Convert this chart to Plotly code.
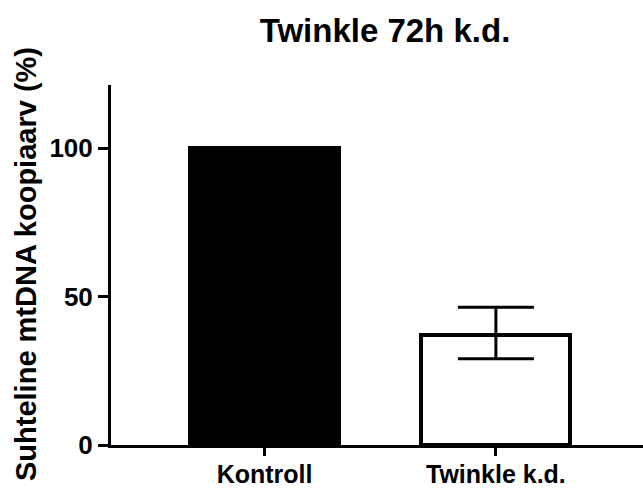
import plotly.graph_objects as go

# Relative mtDNA copy number after 72 h Twinkle knock-down
categories = ["Kontroll", "Twinkle k.d."]
values = [100, 37]
err_plus = [0, 9.4]
err_minus = [0, 7.9]
fill_colors = ["black", "white"]

y_ticks = [0, 50, 100]

FONT = "Liberation Sans, Arial, sans-serif"

W, H = 643, 488
M_L, M_R, M_T, M_B = 111, 0, 85, 43
plot_w = W - M_L - M_R
plot_h = H - M_T - M_B

fig = go.Figure()
fig.add_trace(go.Bar(
    x=categories,
    y=values,
    width=0.645,
    marker=dict(color=fill_colors, line=dict(color="black", width=4)),
    error_y=dict(
        type="data",
        symmetric=False,
        array=err_plus,
        arrayminus=err_minus,
        color="black",
        thickness=3,
        width=38,
    ),
    showlegend=False,
))

fig.update_layout(
    width=W,
    height=H,
    margin=dict(l=M_L, r=M_R, t=M_T, b=M_B, autoexpand=False),
    paper_bgcolor="white",
    plot_bgcolor="white",
    font=dict(family=FONT, color="black"),
    title=dict(
        text="<b>Twinkle 72h k.d.</b>",
        font=dict(family=FONT, size=33, color="black"),
        x=385 / W,
        xanchor="center",
        y=1 - 30 / H,
        yanchor="middle",
    ),
    bargap=0,
)

# y-axis title as a rotated annotation, placed left of the tick labels
fig.add_annotation(
    text="<b>Suhteline mtDNA koopiaarv (%)</b>",
    font=dict(family=FONT, size=29, color="black"),
    textangle=-90,
    xref="paper",
    yref="paper",
    x=(26 - M_L) / plot_w,
    y=(H - M_B - 264) / plot_h,
    xanchor="center",
    yanchor="middle",
    showarrow=False,
)

fig.update_xaxes(
    type="category",
    range=[-0.664, 1.636],
    automargin=False,
    showline=True,
    linecolor="black",
    linewidth=3,
    ticks="outside",
    ticklen=8,
    tickwidth=3,
    tickcolor="black",
    tickfont=dict(family=FONT, size=25, color="black", weight="bold"),
    ticklabelstandoff=-3,
    showgrid=False,
    zeroline=False,
)

fig.update_yaxes(
    range=[0, 121.3],
    automargin=False,
    tickvals=y_ticks,
    ticktext=[str(v) for v in y_ticks],
    showline=True,
    linecolor="black",
    linewidth=3,
    ticks="outside",
    ticklen=10,
    tickwidth=3,
    tickcolor="black",
    tickfont=dict(family=FONT, size=26, color="black", weight="bold"),
    showgrid=False,
    zeroline=False,
)

fig.write_html("out.html")
